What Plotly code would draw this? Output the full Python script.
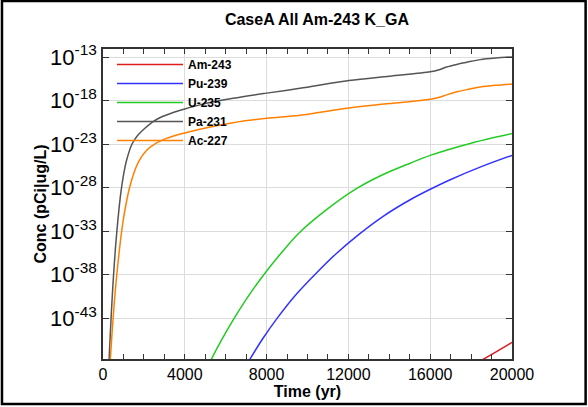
import plotly.graph_objects as go

# time (yr) and log10 of concentration (pCi|ug/L)
t_pa231 = [250, 300, 400, 490, 607, 686, 780, 882, 1000, 1150, 1420, 1700, 1993, 2400, 2800,
           3400, 3952, 4735, 6365, 8000, 9630, 12030, 14000, 16000, 16400, 16800, 17300,
           17800, 18450, 19200, 20000]
lc_pa231 = [-50.0, -47.6, -42.8, -39.0, -35.0, -32.8, -30.5, -28.4, -26.6, -24.9, -23.0, -22.0,
            -21.3, -20.5, -19.95, -19.4, -19.0, -18.5, -17.75, -17.15, -16.6, -15.7, -15.2,
            -14.7, -14.5, -14.15, -13.85, -13.6, -13.3, -13.12, -13.0]

t_ac227 = [330, 362, 450, 550, 650, 750, 870, 1000, 1150, 1300, 1500, 1750, 2100, 2600, 3100,
           3950, 4735, 6365, 8000, 9630, 12030, 14000, 16000, 16400, 16800, 17300, 17800, 18450,
           19200, 20000]
lc_ac227 = [-48.8, -47.6, -44.5, -41.3, -38.6, -36.3, -33.8, -31.6, -29.6, -28.0, -26.4, -25.0,
            -23.8, -22.9, -22.35, -21.75, -21.3, -20.55, -20.05, -19.7, -18.85, -18.35, -17.85,
            -17.65, -17.35, -17.0, -16.75, -16.45, -16.25, -16.1]

t_u235 = [5150, 5308, 5800, 6367, 7100, 7835, 8653, 9550, 10900, 12410, 13700, 15020, 16000,
          18000, 20000]
lc_u235 = [-48.6, -47.7, -45.5, -43.2, -40.5, -38.1, -35.7, -33.3, -30.6, -28.1, -26.5, -25.2,
           -24.3, -22.9, -21.8]

t_pu239 = [7050, 7218, 7800, 8521, 9400, 10400, 11400, 12500, 13700, 15020, 16000, 16980,
           18500, 20000]
lc_pu239 = [-48.3, -47.6, -45.4, -43.0, -40.4, -37.9, -35.6, -33.4, -31.3, -29.4, -28.2, -27.1,
            -25.6, -24.3]

t_am243 = [18400, 19200, 20000]
lc_am243 = [-48.0, -46.9, -45.8]

series = [
    ("Am-243", t_am243, lc_am243, "#dd1c1c"),
    ("Pu-239", t_pu239, lc_pu239, "#3333ff"),
    ("U-235", t_u235, lc_u235, "#22cc22"),
    ("Pa-231", t_pa231, lc_pa231, "#555555"),
    ("Ac-227", t_ac227, lc_ac227, "#ff8000"),
]

x_ticks = [0, 4000, 8000, 12000, 16000, 20000]
x_ticktext = ["0", "4000", "8000", "12000", "16000", "20000"]
y_exps = [-13, -18, -23, -28, -33, -38, -43]

fig = go.Figure()
for name, t, lc, col in series:
    fig.add_trace(go.Scatter(x=t, y=[10.0 ** v for v in lc], mode="lines",
                             name="<b>" + name + "</b>",
                             line=dict(color=col, width=1.5, shape="spline", smoothing=0.9)))

fnt = "Arial, Liberation Sans, sans-serif"
fig.update_layout(
    width=588, height=407,
    margin=dict(l=103, r=76, t=49, b=48),
    paper_bgcolor="white", plot_bgcolor="white",
    font=dict(family=fnt, color="black"),
    title=dict(text="<b>CaseA All Am-243 K_GA</b>", x=0.523, xref="paper", y=0.965,
               yanchor="top", xanchor="center", font=dict(size=16), automargin=False),
    showlegend=True,
    legend=dict(x=0.022, y=0.997, xanchor="left", yanchor="top", bgcolor="rgba(0,0,0,0)",
                font=dict(size=12), itemwidth=66, tracegroupgap=0),
    shapes=[dict(type="rect", xref="paper", yref="paper", x0=-0.247, x1=1.18,
                 y0=-0.145, y1=1.155, line=dict(color="black", width=2.5))],
)
fig.update_xaxes(range=[0, 20000], tickvals=x_ticks, ticktext=x_ticktext, automargin=False,
                 ticks="inside", ticklen=5, tickcolor="#333", showline=True, linecolor="#333",
                 linewidth=1.5, mirror="ticks", showgrid=True, gridcolor="#dcdcdc", zeroline=False,
                 minor=dict(dtick=1000, ticks="inside", ticklen=5, tickcolor="#333", showgrid=False),
                 tickfont=dict(size=16),
                 title=dict(text="<b>Time (yr)</b>", font=dict(size=16), standoff=0))
fig.update_yaxes(type="log", range=[-47.7, -12.08], automargin=False,
                 tickvals=[10.0 ** e for e in y_exps],
                 ticktext=["10<sup>%d</sup>" % e for e in y_exps],
                 ticks="inside", ticklen=6, tickcolor="#333", showline=True, linecolor="#333",
                 linewidth=1.5, mirror="ticks", showgrid=True, gridcolor="#dcdcdc", zeroline=False,
                 tickfont=dict(size=22),
                 title=dict(text="<b>Conc (pCi|ug/L)</b>", font=dict(size=16), standoff=0))

fig.write_html("out.html", config={"displayModeBar": False},
               post_script="document.body.style.margin='0';")
